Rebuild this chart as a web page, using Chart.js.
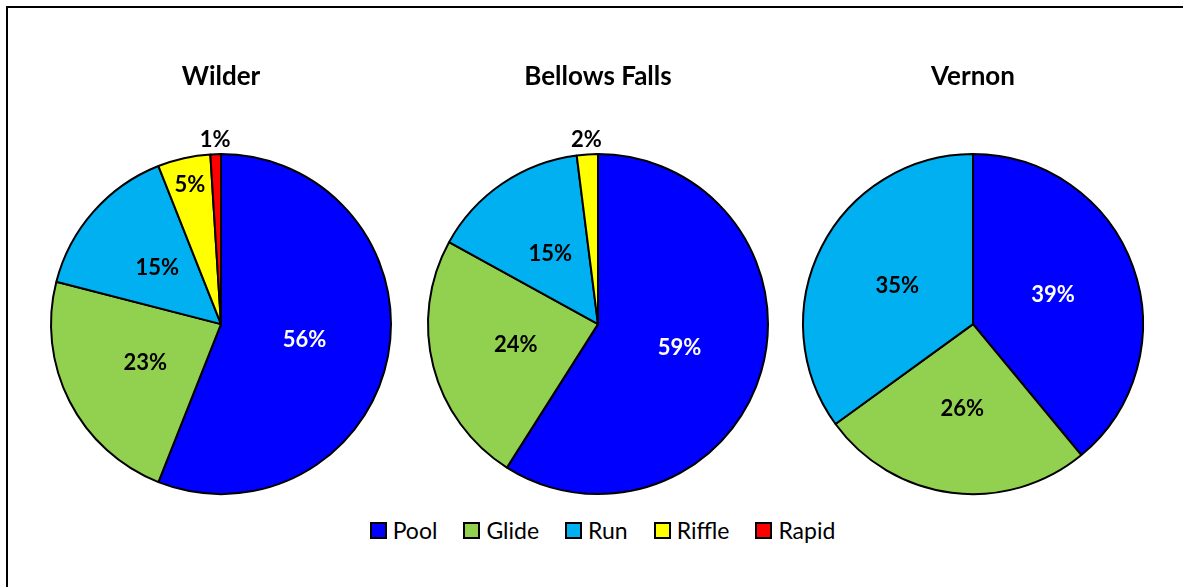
<!DOCTYPE html>
<html>
<head>
<meta charset="utf-8">
<script src="https://cdn.jsdelivr.net/npm/chart.js@4"></script>
<style>
  html, body { margin: 0; padding: 0; background: #fff; }
  #frame {
    position: relative; width: 1183px; height: 587px; overflow: hidden;
  }
  #border {
    position: absolute; left: 6px; top: 6px; width: 1200px; height: 600px;
    border-left: 2px solid #000; border-top: 2px solid #000;
  }
  .pie { position: absolute; top: 40px; width: 370px; height: 470px; }
  #legend {
    position: absolute; left: 11px; width: 1183px; top: 516px;
    display: flex; justify-content: center; gap: 26px;
    font-family: Lato, sans-serif; font-size: 23px; color: #000;
  }
  .item { display: flex; align-items: center; }
  .box { width: 13px; height: 13px; border: 2px solid #000; margin-right: 6px; }
</style>
</head>
<body>
<div id="frame">
  <div id="border"></div>
  <canvas id="c0" class="pie" width="370" height="470" style="left:36px"></canvas>
  <canvas id="c1" class="pie" width="370" height="470" style="left:413px"></canvas>
  <canvas id="c2" class="pie" width="370" height="470" style="left:788px"></canvas>
  <div id="legend"></div>
</div>
<script>
const categories = ['Pool', 'Glide', 'Run', 'Riffle', 'Rapid'];
const colors = ['#0000FF', '#92D050', '#00B0F0', '#FFFF00', '#FF0000'];
const sites = ['Wilder', 'Bellows Falls', 'Vernon'];
const wilder = [56, 23, 15, 5, 1];
const bellowsFalls = [59, 24, 15, 2, 0];
const vernon = [39, 26, 35, 0, 0];
const siteValues = [wilder, bellowsFalls, vernon];

// percentage labels, pushed outward for the thin slices
const pctLabels = {
    id: 'pctLabels',
    afterDatasetsDraw(chart) {
        const ctx = chart.ctx;
        const meta = chart.getDatasetMeta(0);
        const vals = chart.data.datasets[0].data;
        const total = vals.reduce((a, b) => a + b, 0);
        ctx.save();
        ctx.font = 'bold 22px Lato, sans-serif';
        ctx.textAlign = 'center';
        ctx.textBaseline = 'middle';
        meta.data.forEach((arc, i) => {
            const v = vals[i];
            if (!v) return;
            const share = v / total;
            let f = 0.5;
            if (share < 0.03) f = 1.085;
            else if (share < 0.1) f = 0.84;
            const mid = (arc.startAngle + arc.endAngle) / 2;
            const r = arc.outerRadius * f;
            const x = arc.x + Math.cos(mid) * r;
            const y = arc.y + Math.sin(mid) * r;
            ctx.fillStyle = i === 0 ? '#fff' : '#000';
            ctx.fillText(v + '%', x, y);
        });
        ctx.restore();
    }
};

sites.forEach((name, k) => {
    new Chart(document.getElementById('c' + k), {
        type: 'pie',
        data: {
            labels: categories,
            datasets: [{
                data: siteValues[k],
                backgroundColor: colors,
                borderColor: '#000',
                borderWidth: 2,
                radius: 170
            }]
        },
        options: {
            responsive: false,
            animation: false,
            events: [],
            layout: { padding: 0 },
            plugins: {
                legend: { display: false },
                tooltip: { enabled: false },
                title: {
                    display: true,
                    text: name,
                    color: '#000',
                    font: { family: 'Lato, sans-serif', size: 26, weight: 'bold' },
                    padding: { top: 21, bottom: 46 }
                }
            }
        },
        plugins: [pctLabels]
    });
});

const legend = document.getElementById('legend');
categories.forEach((c, i) => {
    const item = document.createElement('div');
    item.className = 'item';
    item.innerHTML = `<span class="box" style="background:${colors[i]}"></span><span>${c}</span>`;
    legend.appendChild(item);
});
</script>
</body>
</html>
